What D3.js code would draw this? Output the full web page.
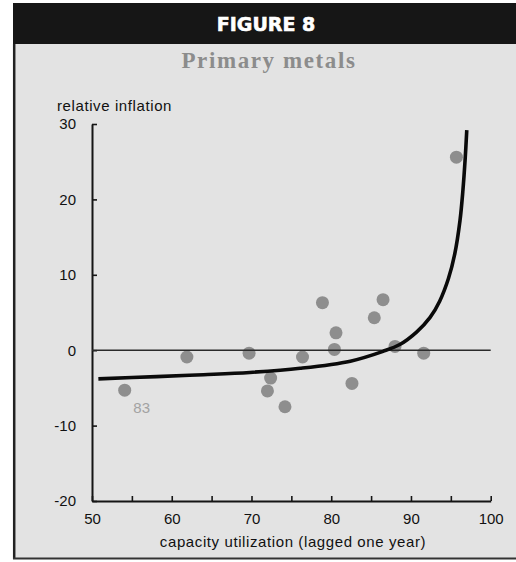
<!DOCTYPE html>
<html>
<head>
<meta charset="utf-8">
<script src="https://cdn.jsdelivr.net/npm/d3@7"></script>
<style>
  html, body { margin: 0; padding: 0; background: #ffffff; }
  svg { display: block; }
</style>
</head>
<body>
<div id="chart"></div>
<script>
// Capacity utilization (lagged one year) vs. relative inflation, primary metals
const capUtil = [54.1, 61.9, 69.7, 72.4, 72.0, 74.2, 76.4, 78.9, 80.6, 80.4, 82.6, 85.4, 86.5, 88.0, 91.6, 95.7];
const relInflation = [-5.3, -0.9, -0.4, -3.7, -5.4, -7.5, -0.9, 6.3, 2.3, 0.1, -4.4, 4.3, 6.7, 0.5, -0.4, 25.6];

// Fitted curve, read along its length
const curveX = [50.8, 58.1, 64.0, 69.8, 76.1, 82.4, 86.5, 88.6, 90.7, 92.4, 93.6, 94.7, 95.5, 96.15, 96.5, 96.8, 97.0];
const curveY = [-3.8, -3.5, -3.25, -2.95, -2.4, -1.45, -0.15, 0.75, 2.4, 4.35, 6.5, 9.5, 12.8, 17.2, 21.0, 25.4, 29.2];

const xTicks = [50, 55, 60, 65, 70, 75, 80, 85, 90, 95, 100];
const yTicks = [-20, -10, 0, 10, 20, 30];
const labelledYear = "83";   // label attached to the first point

const W = 516, H = 562;
const svg = d3.select("#chart").append("svg").attr("width", W).attr("height", H);

// frame: black header band and grey panel
svg.append("rect").attr("x", 13).attr("y", 3).attr("width", W - 13).attr("height", 41).attr("fill", "#161616");
svg.append("rect").attr("x", 13).attr("y", 44).attr("width", W - 13).attr("height", 514).attr("fill", "#e3e3e3");
svg.append("line").attr("x1", 14.2).attr("x2", 14.2).attr("y1", 44).attr("y2", 559).attr("stroke", "#222").attr("stroke-width", 2.5);
svg.append("line").attr("x1", 13).attr("x2", W).attr("y1", 558.5).attr("y2", 558.5).attr("stroke", "#333").attr("stroke-width", 2);

svg.append("text").attr("x", 266).attr("y", 31).attr("text-anchor", "middle")
  .attr("font-family", "DejaVu Sans").attr("font-weight", "bold").attr("font-size", 19)
  .attr("stroke", "#ffffff").attr("stroke-width", 0.6)
  .attr("fill", "#ffffff").text("FIGURE 8");

svg.append("text").attr("x", 269).attr("y", 68).attr("text-anchor", "middle")
  .attr("font-family", "Liberation Serif").attr("font-weight", "bold").attr("font-size", 23)
  .attr("letter-spacing", 1.6).attr("fill", "#8c8c8c").text("Primary metals");

const x = d3.scaleLinear().domain([50, 100]).range([92, 490.7]);
const y = d3.scaleLinear().domain([-20, 30]).range([501, 124]);

// axes (plain hyphen for negative labels)
const xAxis = d3.axisBottom(x).tickValues(xTicks).tickSize(-5).tickSizeOuter(0).tickPadding(12)
  .tickFormat(d => d % 10 === 0 ? String(d) : "");
const gx = svg.append("g").attr("transform", `translate(0,${y(-20)})`).call(xAxis);

const yAxis = d3.axisLeft(y).tickValues(yTicks).tickSize(-5).tickSizeOuter(0).tickPadding(16)
  .tickFormat(d => String(d));
const gy = svg.append("g").attr("transform", `translate(${x(50)},0)`).call(yAxis);

[gx, gy].forEach(g => {
  g.select(".domain").attr("stroke", "#151515").attr("stroke-width", 2);
  g.selectAll(".tick line").attr("stroke", "#151515").attr("stroke-width", 1.6);
  g.selectAll(".tick text").attr("font-family", "Liberation Sans").attr("font-size", 15).attr("fill", "#111");
});

svg.append("text").attr("x", 57).attr("y", 111).attr("font-family", "Liberation Sans")
  .attr("font-size", 15).attr("letter-spacing", 0.6).attr("fill", "#111").text("relative inflation");

svg.append("text").attr("x", 293).attr("y", 547).attr("text-anchor", "middle").attr("font-family", "Liberation Sans")
  .attr("font-size", 15).attr("letter-spacing", 0.6).attr("fill", "#111").text("capacity utilization (lagged one year)");

// data points
const pts = capUtil.map((v, i) => ({ cx: v, cy: relInflation[i] }));
svg.append("g").selectAll("circle").data(pts).join("circle")
  .attr("cx", d => x(d.cx)).attr("cy", d => y(d.cy)).attr("r", 6.5).attr("fill", "#8e8e8e");

svg.append("text").attr("x", x(capUtil[0]) + 17).attr("y", y(relInflation[0]) + 23)
  .attr("text-anchor", "middle").attr("font-family", "Liberation Sans").attr("font-size", 15)
  .attr("fill", "#a2a2a2").text(labelledYear);

// zero reference line
svg.append("line").attr("x1", x(50)).attr("x2", x(100)).attr("y1", y(0)).attr("y2", y(0))
  .attr("stroke", "#2a2a2a").attr("stroke-width", 1.5);

// fitted curve
const line = d3.line().x(d => x(d[0])).y(d => y(d[1])).curve(d3.curveCatmullRom.alpha(0.5));
svg.append("path").datum(curveX.map((v, i) => [v, curveY[i]])).attr("d", line)
  .attr("fill", "none").attr("stroke", "#0a0a0a").attr("stroke-width", 3.6).attr("stroke-linecap", "butt");
</script>
</body>
</html>
